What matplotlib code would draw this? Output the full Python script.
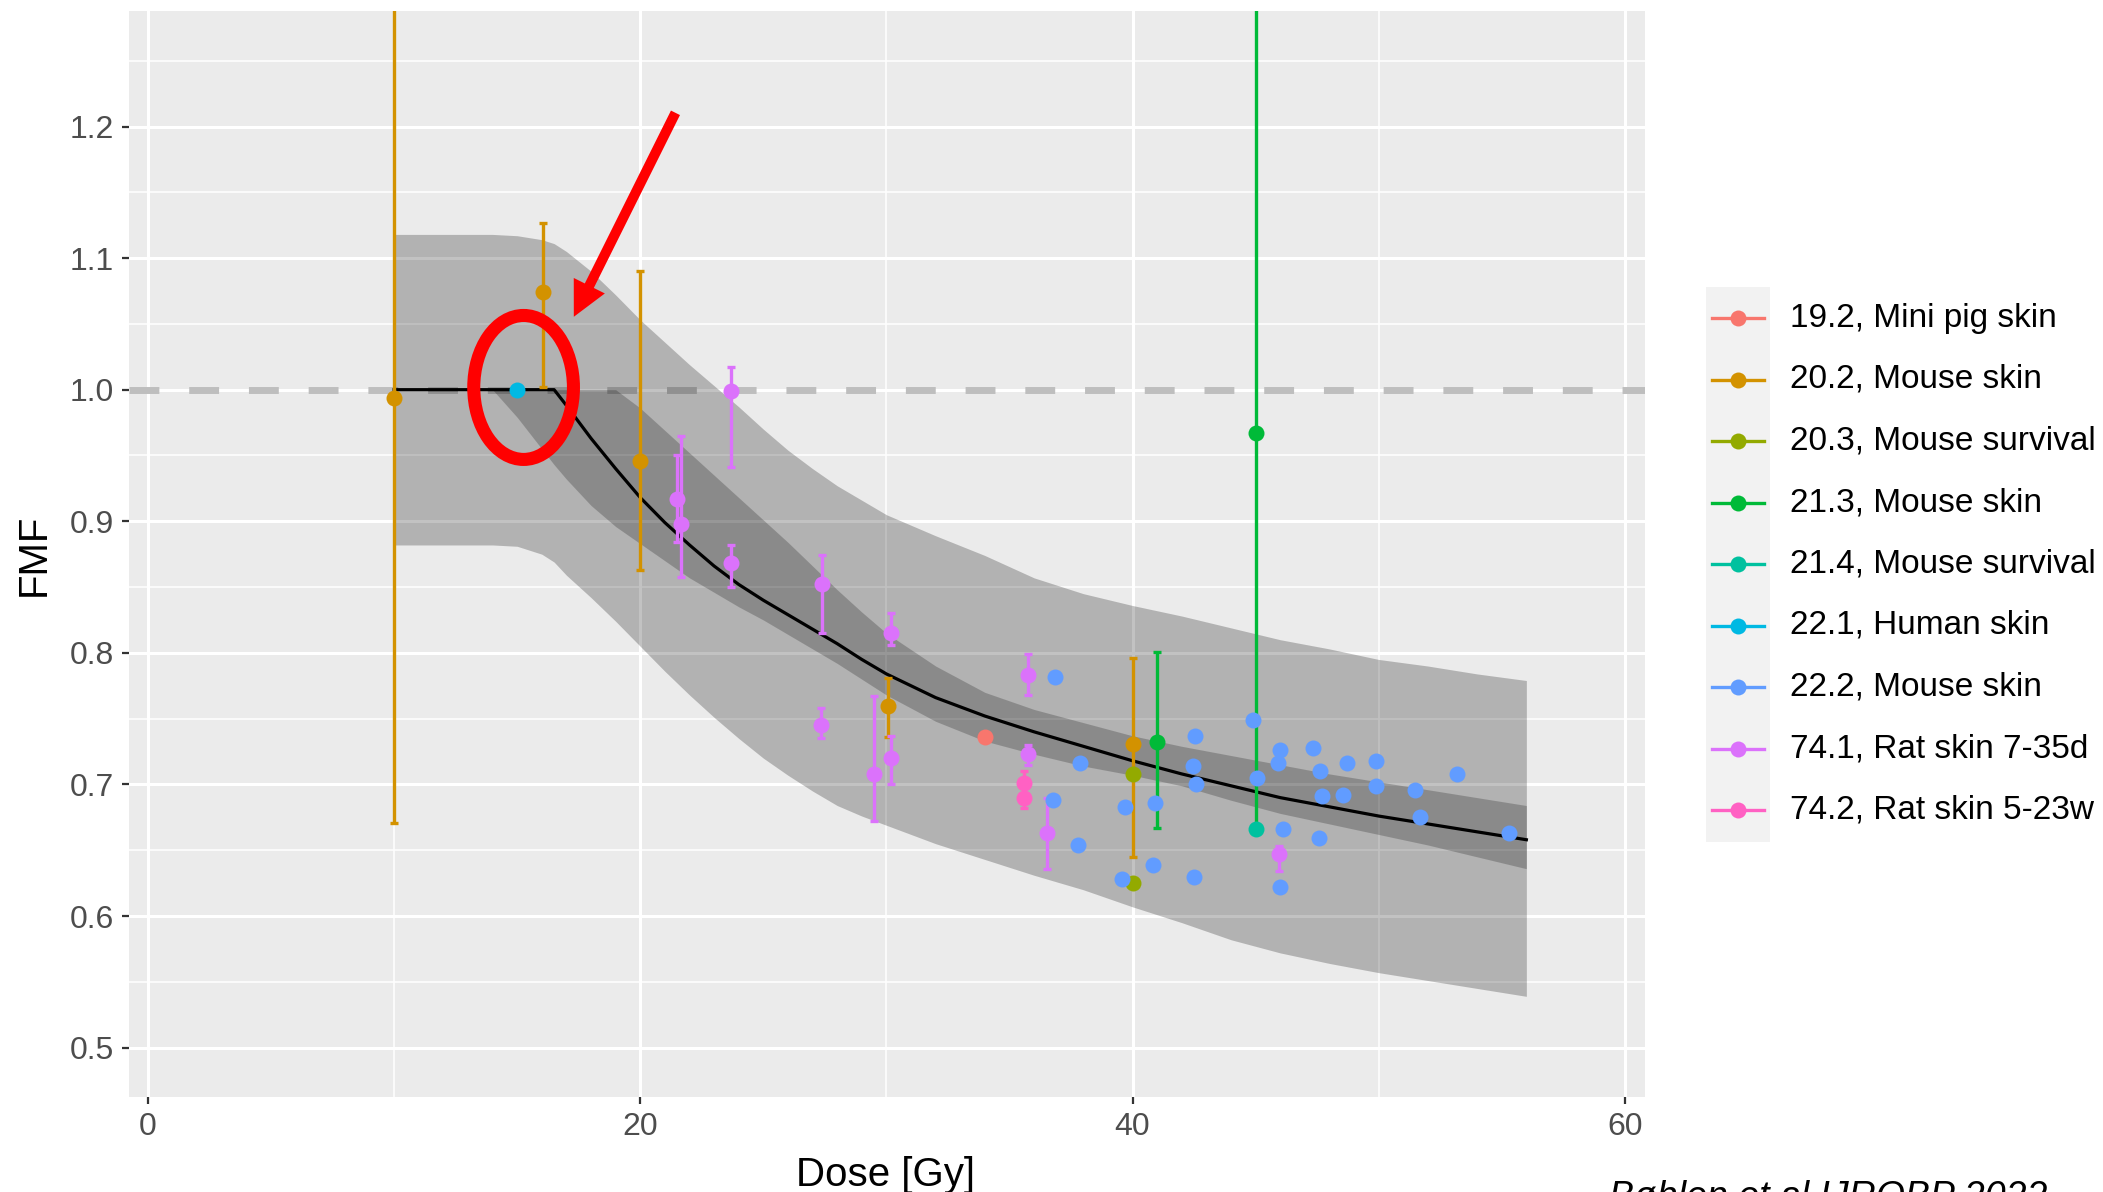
import numpy as np
import matplotlib
matplotlib.use('Agg')
import matplotlib.pyplot as plt
from matplotlib.patches import Ellipse, Rectangle
from matplotlib.ticker import FixedLocator

plt.rcParams['font.family'] = ['Liberation Sans', 'DejaVu Sans']

nan = np.nan

# model curve with its two uncertainty bands
curve_dose = [10, 12, 14, 15, 16, 16.5, 17, 18, 19, 20, 21, 22, 23, 24, 25, 26, 27,
              28, 29, 30, 32, 34, 36, 38, 40, 42, 44, 46, 48, 50, 52, 54, 56]
curve_fmf = [1.0, 1.0, 1.0, 1.0, 1.0, 1.0, 0.988, 0.963, 0.940, 0.918, 0.899, 0.882,
             0.866, 0.852, 0.840, 0.829, 0.818, 0.807, 0.795, 0.784, 0.766, 0.752,
             0.740, 0.729, 0.718, 0.708, 0.699, 0.690, 0.683, 0.676, 0.670, 0.664, 0.658]
inner_lo = [1.0, 1.0, 1.0, 0.979, 0.955, 0.943, 0.932, 0.912, 0.896, 0.883, 0.870,
            0.857, 0.846, 0.835, 0.825, 0.814, 0.803, 0.792, 0.780, 0.768, 0.748,
            0.733, 0.723, 0.714, 0.707, 0.699, 0.688, 0.678, 0.670, 0.662, 0.654,
            0.645, 0.636]
inner_hi = [1.0, 1.0, 1.0, 1.0, 1.0, 1.0, 1.0, 1.0, 1.0, 0.986, 0.969, 0.952, 0.935,
            0.918, 0.901, 0.884, 0.866, 0.848, 0.831, 0.815, 0.790, 0.770, 0.757,
            0.747, 0.737, 0.729, 0.722, 0.715, 0.708, 0.702, 0.696, 0.690, 0.684]
outer_lo = [0.882, 0.882, 0.882, 0.881, 0.875, 0.869, 0.859, 0.842, 0.824, 0.805,
            0.786, 0.768, 0.751, 0.735, 0.720, 0.707, 0.695, 0.684, 0.676, 0.669,
            0.655, 0.643, 0.631, 0.620, 0.607, 0.595, 0.582, 0.572, 0.564, 0.557,
            0.551, 0.545, 0.539]
outer_hi = [1.118, 1.118, 1.118, 1.117, 1.114, 1.111, 1.105, 1.090, 1.072, 1.053,
            1.036, 1.019, 1.003, 0.987, 0.970, 0.954, 0.940, 0.927, 0.916, 0.905,
            0.889, 0.874, 0.857, 0.845, 0.836, 0.828, 0.819, 0.810, 0.803, 0.795,
            0.790, 0.784, 0.779]

# experimental data, one entry per study
series_names = ['19.2, Mini pig skin', '20.2, Mouse skin', '20.3, Mouse survival',
                '21.3, Mouse skin', '21.4, Mouse survival', '22.1, Human skin',
                '22.2, Mouse skin', '74.1, Rat skin 7-35d', '74.2, Rat skin 5-23w']
series_colors = ['#F8766D', '#D39200', '#93AA00', '#00BA38', '#00C19F',
                 '#00B9E3', '#619CFF', '#DB72FB', '#FF61C3']

series_dose = [
    [34.0],
    [10.0, 16.05, 20.0, 30.05, 40.0],
    [40.0, 40.0],
    [41.0, 45.0],
    [45.0],
    [15.0],
    [36.85, 37.87, 36.78, 37.80, 39.70, 39.56, 40.90, 40.83, 42.48, 42.53,
     42.45, 42.57, 44.91, 45.07, 46.00, 45.92, 46.10, 45.98, 47.35, 47.60,
     48.70, 47.70, 48.57, 47.58, 49.90, 49.90, 51.47, 51.67, 53.20, 55.30],
    [21.50, 21.67, 23.67, 23.67, 27.37, 27.34, 29.49, 30.20, 30.20, 35.77,
     35.77, 36.51, 45.94],
    [35.61, 35.61],
]
series_fmf = [
    [0.736],
    [0.994, 1.074, 0.946, 0.760, 0.731],
    [0.708, 0.625],
    [0.732, 0.967],
    [0.666],
    [1.0],
    [0.782, 0.716, 0.688, 0.654, 0.683, 0.628, 0.686, 0.639, 0.630, 0.737,
     0.714, 0.700, 0.749, 0.705, 0.726, 0.716, 0.666, 0.622, 0.728, 0.710,
     0.716, 0.691, 0.692, 0.659, 0.718, 0.699, 0.696, 0.675, 0.708, 0.663],
    [0.917, 0.898, 0.999, 0.868, 0.852, 0.745, 0.708, 0.815, 0.720, 0.783,
     0.723, 0.663, 0.647],
    [0.701, 0.690],
]
series_lo = [
    [nan],
    [0.671, 1.002, 0.863, 0.736, 0.645],
    [nan, nan],
    [0.667, 0.667],
    [nan],
    [nan],
    [nan] * 30,
    [0.884, 0.858, 0.941, 0.850, 0.815, 0.735, 0.672, 0.806, 0.700, 0.768,
     0.715, 0.636, 0.634],
    [0.693, 0.682],
]
series_hi = [
    [nan],
    [1.35, 1.127, 1.090, 0.781, 0.796],
    [nan, nan],
    [0.801, 1.35],
    [nan],
    [nan],
    [nan] * 30,
    [0.950, 0.965, 1.017, 0.882, 0.874, 0.758, 0.767, 0.830, 0.737, 0.799,
     0.730, 0.690, 0.653],
    [0.710, 0.698],
]

x_ticks = [0, 20, 40, 60]
y_ticks = [0.5, 0.6, 0.7, 0.8, 0.9, 1.0, 1.1, 1.2]

W, H = 2103, 1192
fig = plt.figure(figsize=(W / 100, H / 100), dpi=100)
ax = fig.add_axes([128.8 / W, 1 - 1097 / H, (1645 - 128.8) / W, (1097 - 10.7) / H])
ax.set_facecolor('#EBEBEB')
for s in ax.spines.values():
    s.set_visible(False)

ax.set_xlim(-0.78, 60.82)
ax.set_ylim(0.4625, 1.288)
ax.set_xticks(x_ticks)
ax.set_xticklabels([str(t) for t in x_ticks])
ax.set_yticks(y_ticks)
ax.set_yticklabels(['%.1f' % t for t in y_ticks])
ax.xaxis.set_minor_locator(FixedLocator([10, 30, 50]))
ax.yaxis.set_minor_locator(FixedLocator([0.55, 0.65, 0.75, 0.85, 0.95, 1.05, 1.15, 1.25]))
ax.set_axisbelow(True)
ax.grid(which='major', color='white', lw=2.2)
ax.grid(which='minor', color='white', lw=1.1)
ax.tick_params(which='major', length=5, width=1.6, color='#333333',
               labelcolor='#4D4D4D', labelsize=23, pad=6)
ax.tick_params(which='minor', length=0)

# reference level
ax.axhline(1.0, color='#BEBEBE', lw=5, linestyle=(0, (4.3, 4.3)), zorder=1.5)

ax.fill_between(curve_dose, outer_lo, outer_hi, color='black', alpha=0.24, lw=0, zorder=2)
ax.fill_between(curve_dose, inner_lo, inner_hi, color='black', alpha=0.22, lw=0, zorder=2.1)
ax.plot(curve_dose, curve_fmf, color='black', lw=2.3, zorder=3)

for i in range(len(series_names)):
    d = np.array(series_dose[i])
    f = np.array(series_fmf[i])
    lo = np.array(series_lo[i])
    hi = np.array(series_hi[i])
    m = ~np.isnan(lo)
    if m.any():
        ax.errorbar(d[m], f[m], yerr=[f[m] - lo[m], hi[m] - f[m]], fmt='none',
                    ecolor=series_colors[i], elinewidth=2.4, capsize=3, capthick=2.4, zorder=4)

for i in range(len(series_names)):
    ax.plot(series_dose[i], series_fmf[i], 'o', color=series_colors[i], ms=11.5, mew=0, zorder=5)

# highlight of the human skin point
ax.add_patch(Ellipse((15.26, 1.0017), 4.05, 0.1094, fill=False, edgecolor='red',
                     lw=9.4, zorder=10))
ax.annotate('', xy=(17.30, 1.0554), xytext=(21.43, 1.2104),
            arrowprops=dict(arrowstyle='simple,head_length=1.0,head_width=1.0,tail_width=0.29',
                            mutation_scale=25, color='red', lw=0, shrinkA=0, shrinkB=0),
            zorder=10)

fig.text(885 / W, 1 - 1185.5 / H, 'Dose [Gy]', ha='center', va='baseline', fontsize=29)
fig.text(33.5 / W, 1 - 555 / H, 'FMF', rotation=90, ha='center', va='center', fontsize=29)
fig.text(1609 / W, 1 - 1208 / H, 'Bøhlen et al IJROBP 2022', ha='left', va='baseline',
         fontsize=27, style='italic')

# legend drawn in pixel coordinates
lax = fig.add_axes([0, 0, 1, 1], zorder=20)
lax.set_xlim(0, W)
lax.set_ylim(H, 0)
lax.axis('off')
lax.add_patch(Rectangle((1706, 286.5), 64, 555, color='#F2F2F2', lw=0))
for i in range(len(series_names)):
    yc = 318 + i * 61.5
    lax.plot([1712, 1764], [yc, yc], color=series_colors[i], lw=2.4)
    lax.plot([1738], [yc], 'o', color=series_colors[i], ms=11.5, mew=0)
    lax.text(1790, yc, series_names[i], ha='left', va='center', fontsize=24)

fig.savefig('out.png', dpi=100)
